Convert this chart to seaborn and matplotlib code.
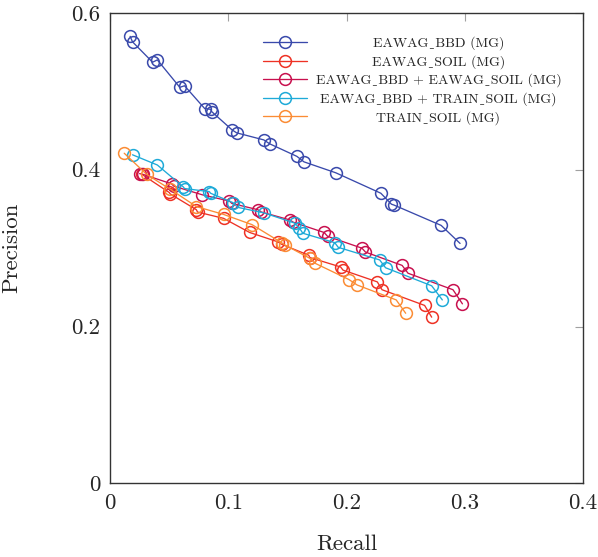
import numpy as np
import pandas as pd
import seaborn as sns
from matplotlib import pyplot as plt

# recall / precision pairs
bbd_recall = [0.017, 0.019, 0.036, 0.040, 0.059, 0.063, 0.080, 0.085, 0.086, 0.103, 0.107,
              0.130, 0.135, 0.158, 0.164, 0.191, 0.229, 0.238, 0.240, 0.280, 0.296]
bbd_prec = [0.570, 0.563, 0.537, 0.540, 0.505, 0.507, 0.478, 0.477, 0.474, 0.451, 0.447,
            0.438, 0.433, 0.417, 0.410, 0.396, 0.370, 0.356, 0.355, 0.329, 0.306]

soil_recall = [0.027, 0.050, 0.051, 0.073, 0.074, 0.096, 0.118, 0.142, 0.145, 0.168, 0.169,
               0.195, 0.197, 0.226, 0.230, 0.266, 0.272]
soil_prec = [0.394, 0.371, 0.369, 0.349, 0.346, 0.338, 0.320, 0.308, 0.305, 0.291, 0.288,
             0.276, 0.272, 0.257, 0.247, 0.227, 0.212]

bbd_soil_recall = [0.025, 0.028, 0.052, 0.054, 0.078, 0.101, 0.103, 0.125, 0.128, 0.152, 0.155,
                   0.181, 0.184, 0.213, 0.216, 0.247, 0.252, 0.290, 0.298]
bbd_soil_prec = [0.395, 0.394, 0.382, 0.379, 0.368, 0.360, 0.357, 0.349, 0.346, 0.336, 0.333,
                 0.320, 0.315, 0.300, 0.295, 0.278, 0.268, 0.247, 0.229]

bbd_train_recall = [0.019, 0.040, 0.062, 0.063, 0.084, 0.085, 0.104, 0.108, 0.130, 0.156, 0.160,
                    0.163, 0.190, 0.193, 0.228, 0.233, 0.272, 0.281]
bbd_train_prec = [0.419, 0.406, 0.378, 0.376, 0.372, 0.370, 0.358, 0.352, 0.345, 0.332, 0.326,
                  0.319, 0.307, 0.301, 0.285, 0.275, 0.252, 0.234]

train_recall = [0.012, 0.031, 0.051, 0.073, 0.096, 0.120, 0.145, 0.148, 0.169, 0.173,
                0.202, 0.209, 0.242, 0.250]
train_prec = [0.421, 0.394, 0.375, 0.353, 0.343, 0.330, 0.307, 0.304, 0.287, 0.281,
              0.260, 0.253, 0.234, 0.217]

series_names = ['EAWAG_BBD (MG)', 'EAWAG_SOIL (MG)', 'EAWAG_BBD + EAWAG_SOIL (MG)',
                'EAWAG_BBD + TRAIN_SOIL (MG)', 'TRAIN_SOIL (MG)']
colors = ['#3949ab', '#ee3124', '#c8104e', '#1eaad8', '#fb8c34']

xticks = [0, 0.1, 0.2, 0.3, 0.4]
xtick_labels = ['0', '0.1', '0.2', '0.3', '0.4']
yticks = [0, 0.2, 0.4, 0.6]
ytick_labels = ['0', '0.2', '0.4', '0.6']

frames = []
for name, r, p in zip(series_names,
                      [bbd_recall, soil_recall, bbd_soil_recall, bbd_train_recall, train_recall],
                      [bbd_prec, soil_prec, bbd_soil_prec, bbd_train_prec, train_prec]):
    frames.append(pd.DataFrame({'Recall': r, 'Precision': p, 'Series': name}))
df = pd.concat(frames, ignore_index=True)

sns.set_style('white')
plt.rcParams['font.family'] = ['cmr10', 'DejaVu Serif']
plt.rcParams['mathtext.fontset'] = 'cm'
plt.rcParams['axes.formatter.use_mathtext'] = True

fig = plt.figure(figsize=(5.98, 5.57), dpi=100)
ax = fig.add_axes([0.184, 0.132, 0.791, 0.845])

sns.lineplot(data=df, x='Recall', y='Precision', hue='Series', hue_order=series_names,
             palette=colors, estimator=None, sort=False, marker='o', markersize=8.5,
             linewidth=0.95, legend=False, ax=ax)
for line, c in zip(ax.get_lines(), colors):
    line.set_markerfacecolor('none')
    line.set_markeredgecolor(c)
    line.set_markeredgewidth(1.1)

ax.set_xlim(0, 0.4)
ax.set_ylim(0, 0.6)
ax.set_xticks(xticks)
ax.set_xticklabels(xtick_labels)
ax.set_yticks(yticks)
ax.set_yticklabels(ytick_labels)
ax.tick_params(direction='in', length=6, width=0.8, color='#a0a0a0',
               top=True, right=True, labelsize=16.5, pad=7)
for s in ax.spines.values():
    s.set_color('#333333')
    s.set_linewidth(1.0)
ax.set_xlabel('Recall', fontsize=16.5, labelpad=16)
ax.set_ylabel('Precision', fontsize=16.5, labelpad=36)

# cmr10 has a dot accent where '_' sits, so show a low line from the fallback font
shown = [n.replace('_', '\u02cd') for n in series_names]
leg = ax.legend(ax.get_lines(), shown, loc='upper left', bbox_to_anchor=(0.323, 0.95),
                frameon=False, fontsize=10, handlelength=3.2, handletextpad=0.6,
                labelspacing=0.35, borderpad=0, borderaxespad=0)

# centre legend labels like the reference
fig.canvas.draw()
renderer = fig.canvas.get_renderer()
texts = leg.get_texts()
widths = [t.get_window_extent(renderer).width for t in texts]
wmax = max(widths)
for t, w in zip(texts, widths):
    t.set_x((wmax - w) / 2)

fig.savefig('out.png', dpi=100)
